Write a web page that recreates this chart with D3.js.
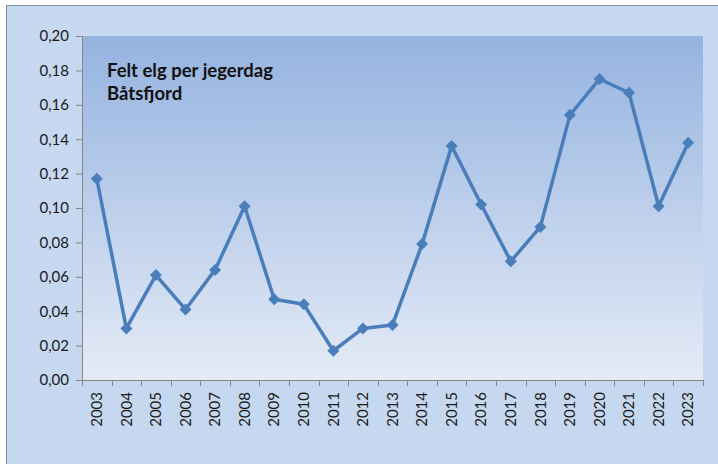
<!DOCTYPE html>
<html><head><meta charset="utf-8">
<script src="https://cdn.jsdelivr.net/npm/d3@7"></script>
<style>body{margin:0;background:#fff}svg{display:block}</style>
</head><body><div id="c"></div>
<script>
const years = ["2003","2004","2005","2006","2007","2008","2009","2010","2011","2012","2013","2014","2015","2016","2017","2018","2019","2020","2021","2022","2023"];
const values = [0.117,0.030,0.061,0.041,0.064,0.101,0.047,0.044,0.017,0.030,0.032,0.079,0.136,0.102,0.069,0.089,0.154,0.175,0.167,0.101,0.138];
const yTicks = [0,0.02,0.04,0.06,0.08,0.10,0.12,0.14,0.16,0.18,0.20];
const titleLines = ["Felt elg per jegerdag","Båtsfjord"];

const W=718,H=464;
const m={l:82,t:36,r:703,b:380};
const svg=d3.select("#c").append("svg").attr("width",W).attr("height",H);
const defs=svg.append("defs");
const g1=defs.append("linearGradient").attr("id","pg").attr("x1",0).attr("y1",0).attr("x2",0).attr("y2",1);
g1.append("stop").attr("offset","0%").attr("stop-color","#95b3e0");
g1.append("stop").attr("offset","100%").attr("stop-color","#e4ebf6");
const g2=defs.append("linearGradient").attr("id","og").attr("x1",0).attr("y1",0).attr("x2",0).attr("y2",1);
g2.append("stop").attr("offset","0%").attr("stop-color","#c7d9f0");
g2.append("stop").attr("offset","100%").attr("stop-color","#c5d8f0");

svg.append("rect").attr("x",6.5).attr("y",5.5).attr("width",W).attr("height",H)
  .attr("fill","url(#og)").attr("stroke","#7e8c9e").attr("stroke-width",1);
svg.append("rect").attr("x",m.l).attr("y",m.t).attr("width",m.r-m.l).attr("height",m.b-m.t).attr("fill","url(#pg)");

const x=d3.scaleBand().domain(years).range([m.l,m.r]);
const y=d3.scaleLinear().domain([0,0.20]).range([m.b,m.t]);
const font="Lato, 'Open Sans', sans-serif";

// y axis
const ya=svg.append("g").attr("transform",`translate(${m.l},0)`)
  .call(d3.axisLeft(y).tickValues(yTicks).tickSize(6).tickPadding(7).tickFormat(d=>d3.format(".2f")(d).replace(".",",")));
ya.select(".domain").attr("stroke","#868686").attr("d",`M0.5,${m.t}V${m.b}`);
ya.selectAll(".tick line").attr("stroke","#868686");
ya.selectAll("text").attr("font-family",font).attr("font-size","15px").attr("fill","#1a1a1a");

// x axis
const xa=svg.append("g").attr("transform",`translate(0,${m.b})`)
  .call(d3.axisBottom(x).tickSize(0).tickPadding(0));
xa.select(".domain").attr("stroke","#868686").attr("d",`M${m.l},0.5H${m.r}`);
xa.selectAll(".tick text").attr("font-family",font).attr("font-size","15px").attr("fill","#1a1a1a")
  .attr("transform","rotate(-90)").attr("text-anchor","end").attr("x",-12).attr("y",0).attr("dy","0.35em");
const bounds=years.map(d=>x(d)).concat([m.r]);
xa.selectAll(".bt").data(bounds).join("line").attr("class","bt")
  .attr("x1",d=>Math.round(d)+0.5).attr("x2",d=>Math.round(d)+0.5).attr("y1",0).attr("y2",6).attr("stroke","#868686");

// line
const cx=d=>x(d)+x.bandwidth()/2;
svg.append("path").datum(years.map((d,i)=>[cx(d),y(values[i])]))
  .attr("d",d3.line()).attr("fill","none").attr("stroke","#4a7ebb").attr("stroke-width",3.5).attr("stroke-linejoin","round");
svg.selectAll(".mk").data(years).join("path").attr("class","mk")
  .attr("transform",(d,i)=>`translate(${cx(d)},${y(values[i])})`)
  .attr("d","M0,-6L6,0L0,6L-6,0Z").attr("fill","#4a7ebb");

// title
const t=svg.append("text").attr("font-family",font).attr("font-weight","bold").attr("font-size","18.5px").attr("fill","#111");
titleLines.forEach((s,i)=>t.append("tspan").attr("x",107).attr("y",77+i*23).text(s));
</script></body></html>
